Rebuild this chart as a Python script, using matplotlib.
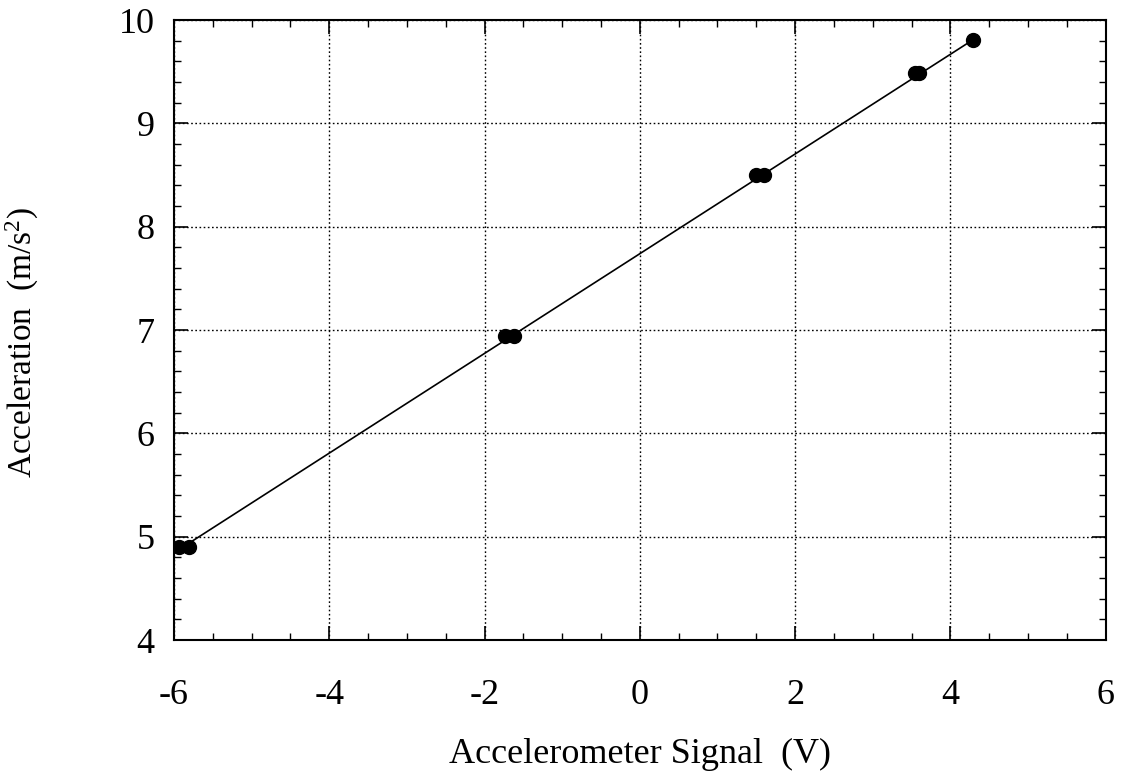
#!/usr/bin/env python3

import numpy as np
import matplotlib
matplotlib.use("Agg")
import matplotlib.pyplot as plt
from matplotlib.ticker import MultipleLocator

# calibration readings
signal = [-5.94, -5.81, -1.74, -1.62, 1.50, 1.60, 3.55, 3.60, 4.29]
accel = [4.90, 4.90, 6.94, 6.94, 8.50, 8.50, 9.49, 9.49, 9.81]

# least squares line through the readings
fit_slope = 0.4825
fit_intercept = 7.74

plt.rcParams["font.family"] = ["Liberation Serif", "DejaVu Serif"]
plt.rcParams["mathtext.fontset"] = "custom"
plt.rcParams["mathtext.rm"] = "Liberation Serif"
plt.rcParams["mathtext.default"] = "regular"
plt.rcParams["axes.unicode_minus"] = False

fig = plt.figure(figsize=(11.26, 7.75), dpi=100)
ax = fig.add_axes([0.1545, 0.174, 0.8275, 0.8])

xs = np.array([min(signal[1], signal[0]), max(signal)])
ax.plot(xs, fit_slope * xs + fit_intercept, color="black", linewidth=1.2, zorder=3)
ax.plot(signal, accel, "o", color="black", markersize=10, zorder=4)

ax.set_xlim(-6, 6)
ax.set_ylim(4, 10)
ax.xaxis.set_major_locator(MultipleLocator(2))
ax.xaxis.set_minor_locator(MultipleLocator(0.5))
ax.yaxis.set_major_locator(MultipleLocator(1))
ax.yaxis.set_minor_locator(MultipleLocator(0.2))

ax.grid(True, which="major", linestyle=(0, (1.2, 1.8)), color="black", linewidth=1.0)
ax.tick_params(which="both", direction="in", top=True, right=True, colors="black")
ax.tick_params(which="major", length=10, width=1.2, labelsize=26)
ax.tick_params(axis="x", which="major", pad=28)
ax.tick_params(axis="y", which="major", pad=14)
ax.tick_params(which="minor", length=5, width=1.0)
for sp in ax.spines.values():
    sp.set_linewidth(1.5)

ax.set_xlabel("Accelerometer Signal  (V)", fontsize=26, labelpad=19)
ax.set_ylabel("Acceleration  (m/s$^{2}$)", fontsize=24)
ax.yaxis.set_label_coords(-0.143, 0.48)

fig.savefig("out.png", dpi=100)
